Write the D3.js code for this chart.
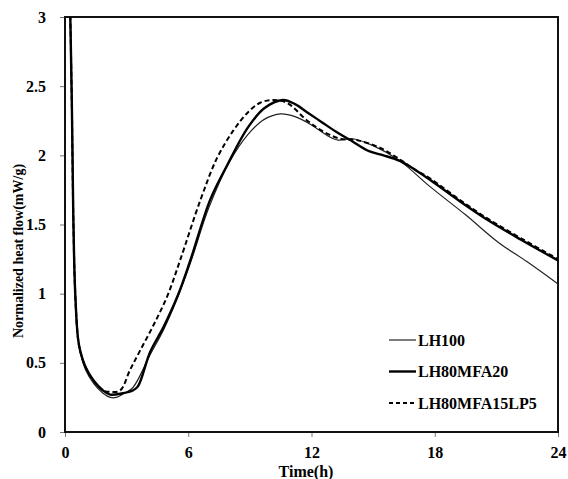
<!DOCTYPE html>
<html>
<head>
<meta charset="utf-8">
<script src="https://cdn.jsdelivr.net/npm/d3@7"></script>
<style>
  body { margin: 0; background: #fff; }
  text { font-family: "Liberation Serif", "Times New Roman", serif; font-weight: bold; fill: #000; }
</style>
</head>
<body>
<script>
// time (h) / normalized heat flow (mW/g)
const lh100Time = [0.22, 0.33, 0.4, 0.49, 0.63, 0.75, 1.0, 1.4, 1.85, 2.2, 2.5, 2.9, 3.3, 4.15, 4.8, 5.5, 6.1, 7.0, 8.0, 8.9, 9.7, 10.5, 11.2, 12.0, 12.8, 13.3, 14.0, 15.0, 16.3, 17.8, 19.5, 21.1, 22.5, 24.0];
const lh100Flow = [3.3, 2.4, 1.6, 1.03, 0.68, 0.57, 0.45, 0.35, 0.28, 0.25, 0.25, 0.28, 0.32, 0.56, 0.74, 0.98, 1.22, 1.62, 1.95, 2.15, 2.26, 2.30, 2.28, 2.22, 2.14, 2.11, 2.12, 2.07, 1.96, 1.77, 1.57, 1.37, 1.23, 1.07];

const lh80mfa20Time = [0.22, 0.33, 0.4, 0.49, 0.63, 0.75, 1.0, 1.4, 1.85, 2.2, 2.8, 3.3, 3.55, 4.15, 4.8, 5.5, 6.1, 7.07, 7.9, 8.9, 9.7, 10.6, 11.2, 11.8, 12.5, 13.2, 14.0, 14.8, 15.5, 16.3, 17.0, 17.8, 19.2, 20.6, 22.2, 24.0];
const lh80mfa20Flow = [3.3, 2.4, 1.6, 1.03, 0.68, 0.58, 0.47, 0.37, 0.30, 0.27, 0.28, 0.30, 0.33, 0.58, 0.76, 0.99, 1.24, 1.68, 1.93, 2.20, 2.34, 2.40, 2.37, 2.31, 2.24, 2.17, 2.10, 2.03, 2.00, 1.96, 1.90, 1.82, 1.67, 1.53, 1.39, 1.24];

const lh80mfa15lp5Time = [0.22, 0.33, 0.4, 0.49, 0.63, 0.75, 1.0, 1.4, 1.85, 2.2, 2.68, 3.17, 3.66, 4.3, 5.0, 5.6, 6.6, 7.4, 8.2, 8.9, 9.5, 10.1, 10.8, 11.8, 12.6, 13.4, 14.2, 15.4, 16.3, 17.0, 17.8, 19.2, 20.6, 22.2, 24.0];
const lh80mfa15lp5Flow = [3.3, 2.4, 1.6, 1.03, 0.68, 0.58, 0.47, 0.37, 0.30, 0.29, 0.30, 0.45, 0.59, 0.77, 0.99, 1.24, 1.68, 1.98, 2.18, 2.31, 2.38, 2.40, 2.38, 2.25, 2.17, 2.12, 2.11, 2.05, 1.97, 1.90, 1.83, 1.68, 1.54, 1.40, 1.25];

const seriesNames = ["LH100", "LH80MFA20", "LH80MFA15LP5"];
const xTicks = [0, 6, 12, 18, 24];
const yTicks = [0, 0.5, 1, 1.5, 2, 2.5, 3];

const width = 568, height = 479;
const margin = {left: 65, right: 10, top: 17, bottom: 47};

const svg = d3.select("body").append("svg").attr("width", width).attr("height", height);

const xScale = d3.scaleLinear().domain([0, 24]).range([margin.left, width - margin.right]);
const yScale = d3.scaleLinear().domain([0, 3]).range([height - margin.bottom, margin.top]);

svg.append("clipPath").attr("id", "plot-clip")
   .append("rect")
   .attr("x", xScale(0)).attr("y", yScale(3))
   .attr("width", xScale(24) - xScale(0)).attr("height", yScale(0) - yScale(3));

// axes
const xAxis = d3.axisBottom(xScale).tickValues(xTicks).tickSize(5).tickSizeOuter(0).tickPadding(10);
const yAxis = d3.axisLeft(yScale).tickValues(yTicks).tickSize(5).tickSizeOuter(0).tickPadding(14)
                .tickFormat(d3.format("~g"));

const gx = svg.append("g").attr("transform", `translate(0, ${yScale(0)})`).call(xAxis);
const gy = svg.append("g").attr("transform", `translate(${xScale(0)}, 0)`).call(yAxis);
[gx, gy].forEach(g => {
  g.select(".domain").remove();
  g.selectAll(".tick line").attr("stroke", "#777");
  g.selectAll("text").style("font-size", "16px").attr("fill", "#000");
});

// frame
svg.append("rect")
   .attr("x", xScale(0)).attr("y", yScale(3))
   .attr("width", xScale(24) - xScale(0)).attr("height", yScale(0) - yScale(3))
   .attr("fill", "none").attr("stroke", "#111").attr("stroke-width", 2);

// lines
const lineGenerator = d3.line()
                        .x(d => xScale(d[0]))
                        .y(d => yScale(d[1]))
                        .curve(d3.curveCatmullRom.alpha(0.5));

const series = [
  {name: seriesNames[0], pts: d3.zip(lh100Time, lh100Flow), width: 1.2, dash: null, color: "#222"},
  {name: seriesNames[1], pts: d3.zip(lh80mfa20Time, lh80mfa20Flow), width: 2.4, dash: null, color: "#000"},
  {name: seriesNames[2], pts: d3.zip(lh80mfa15lp5Time, lh80mfa15lp5Flow), width: 2, dash: "5,3", color: "#000"}
];

const plot = svg.append("g").attr("clip-path", "url(#plot-clip)");
series.forEach(s => {
  plot.append("path")
      .attr("fill", "none")
      .attr("stroke", s.color)
      .attr("stroke-width", s.width)
      .attr("stroke-dasharray", s.dash)
      .attr("d", lineGenerator(s.pts));
});

// legend
const legend = svg.append("g").attr("transform", "translate(389, 340)");
series.forEach((s, i) => {
  const row = legend.append("g").attr("transform", `translate(0, ${i * 31.5})`);
  row.append("line")
     .attr("x1", 0).attr("x2", 27)
     .attr("stroke", s.color).attr("stroke-width", s.width)
     .attr("stroke-dasharray", s.dash ? "4,3" : null);
  row.append("text")
     .attr("x", 29).attr("dy", "0.35em")
     .style("font-size", "16px")
     .text(s.name);
});

// axis titles
svg.append("text")
   .attr("x", 306).attr("y", 477)
   .attr("text-anchor", "middle")
   .style("font-size", "16px")
   .text("Time(h)");

svg.append("text")
   .attr("transform", "translate(23, 251) rotate(-90)")
   .attr("text-anchor", "middle")
   .style("font-size", "14px")
   .text("Normalized heat flow(mW/g)");
</script>
</body>
</html>
